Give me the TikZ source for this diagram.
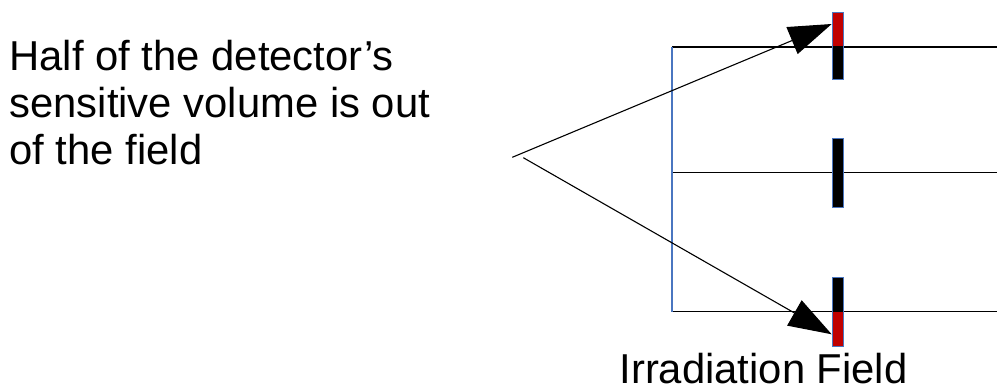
\documentclass[tikz,border=0pt]{standalone}
\usepackage{fontspec}
\setmainfont{Liberation Sans}
\usetikzlibrary{arrows.meta}
\definecolor{blueline}{HTML}{4A76C0}
\definecolor{detred}{HTML}{C00000}
\tikzset{
  fieldline/.style={draw=black, line width=1.3pt},
  bluevert/.style={draw=blueline, line width=1.1pt},
  detector/.style={draw=blueline, fill=black, minimum width=11pt, inner sep=0pt, line width=0.9pt},
  redtop/.style={path picture={\fill[detred] (path picture bounding box.north west) rectangle (path picture bounding box.east);}},
  redbottom/.style={path picture={\fill[detred] (path picture bounding box.west) rectangle (path picture bounding box.south east);}},
  pointer/.style={draw=black, line width=1.1pt, -{Triangle[length=43pt, width=29pt]}},
  bigtext/.style={inner sep=0pt, anchor=base west, font=\fontsize{41.8}{48}\selectfont}
}
\begin{document}
\begin{tikzpicture}[x=1pt, y=-1pt]
\useasboundingbox (0,0) rectangle (997,387);
% field lines
\coordinate (tl) at (672,47);
\coordinate (tr) at (997,47);
\coordinate (ml) at (672,172.7);
\coordinate (mr) at (997,172.7);
\coordinate (bl) at (672,311.7);
\coordinate (br) at (997,311.7);
\draw[fieldline] (tl) -- (tr);
\draw[fieldline] (ml) -- (mr);
\draw[fieldline] (bl) -- (br);
\draw[bluevert] (tl) -- (bl);
% detectors
\node[detector, redtop, minimum height=67.3pt] (d1) at (837.8,46.3) {};
\node[detector, minimum height=69.4pt] (d2) at (837.8,173) {};
\node[detector, redbottom, minimum height=69.4pt] (d3) at (837.8,312) {};
% pointers
\coordinate (s1) at (512.3,157.3);
\coordinate (s2) at (523.3,157.7);
\coordinate (t1) at (831.7,24);
\coordinate (t2) at (831.7,334.3);
\draw[pointer] (s1) -- (t1);
\draw[pointer] (s2) -- (t2);
% texts
\node[bigtext] (l1) at (9.3,70.8) {Half of the detector’s};
\node[bigtext] (l2) at (9.3,117.3) {sensitive volume is out};
\node[bigtext] (l3) at (9.3,164.5) {of the field};
\node[bigtext, text depth=0pt] (irr) at (619.3,383.3) {Irradiation Field};
\end{tikzpicture}
\end{document}
